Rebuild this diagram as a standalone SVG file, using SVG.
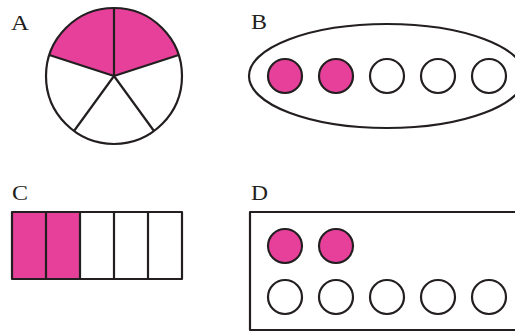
<svg xmlns="http://www.w3.org/2000/svg" width="515" height="332" viewBox="0 0 515 332">
  <style>
    .ln { stroke: #231f20; stroke-width: 2.2; fill: none; stroke-linejoin: round; }
    .pk { fill: #e6409a; }
    .wh { fill: #ffffff; }
    .lbl { font-family: "Liberation Serif", "DejaVu Serif", serif; font-size: 20px; fill: #231f20; }
  </style>
  <defs>
    <circle id="dot" r="17"/>
  </defs>
  <rect width="515" height="332" fill="#ffffff"/>

  <!-- A: circle cut into five sectors, two shaded -->
  <g id="A">
    <text class="lbl" x="11" y="30" textLength="18" lengthAdjust="spacingAndGlyphs">A</text>
    <circle cx="114" cy="76" r="68" class="wh"/>
    <path class="pk" d="M114 76 L49.3 55 A68 68 0 0 1 114 8 A68 68 0 0 1 178.7 55 Z"/>
    <circle cx="114" cy="76" r="68" class="ln"/>
    <path class="ln" d="M114 8 L114 76 L178.7 55 M114 76 L154 131 M114 76 L74 131 M114 76 L49.3 55"/>
  </g>

  <!-- B: five counters inside an oval, two shaded -->
  <g id="B">
    <text class="lbl" x="251" y="29" textLength="16" lengthAdjust="spacingAndGlyphs">B</text>
    <ellipse cx="387" cy="76" rx="138" ry="52" class="ln"/>
    <use href="#dot" x="285" y="76" class="ln" style="fill:#e6409a"/>
    <use href="#dot" x="336" y="76" class="ln" style="fill:#e6409a"/>
    <use href="#dot" x="387" y="76" class="ln"/>
    <use href="#dot" x="438" y="76" class="ln"/>
    <use href="#dot" x="489" y="76" class="ln"/>
  </g>

  <!-- C: bar cut into five equal parts, two shaded -->
  <g id="C">
    <text class="lbl" x="12" y="200" textLength="16" lengthAdjust="spacingAndGlyphs">C</text>
    <rect x="12" y="212" width="68" height="67" class="pk"/>
    <rect x="12" y="212" width="170" height="67" class="ln"/>
    <path class="ln" d="M46 212 V279 M80 212 V279 M114 212 V279 M148 212 V279"/>
  </g>

  <!-- D: two shaded counters above five plain ones in a frame -->
  <g id="D">
    <text class="lbl" x="251" y="200" textLength="17" lengthAdjust="spacingAndGlyphs">D</text>
    <rect x="250" y="212" width="280" height="118" class="ln"/>
    <use href="#dot" x="285" y="246" class="ln" style="fill:#e6409a"/>
    <use href="#dot" x="336" y="246" class="ln" style="fill:#e6409a"/>
    <use href="#dot" x="285" y="297" class="ln"/>
    <use href="#dot" x="336" y="297" class="ln"/>
    <use href="#dot" x="387" y="297" class="ln"/>
    <use href="#dot" x="438" y="297" class="ln"/>
    <use href="#dot" x="489" y="297" class="ln"/>
  </g>
</svg>
